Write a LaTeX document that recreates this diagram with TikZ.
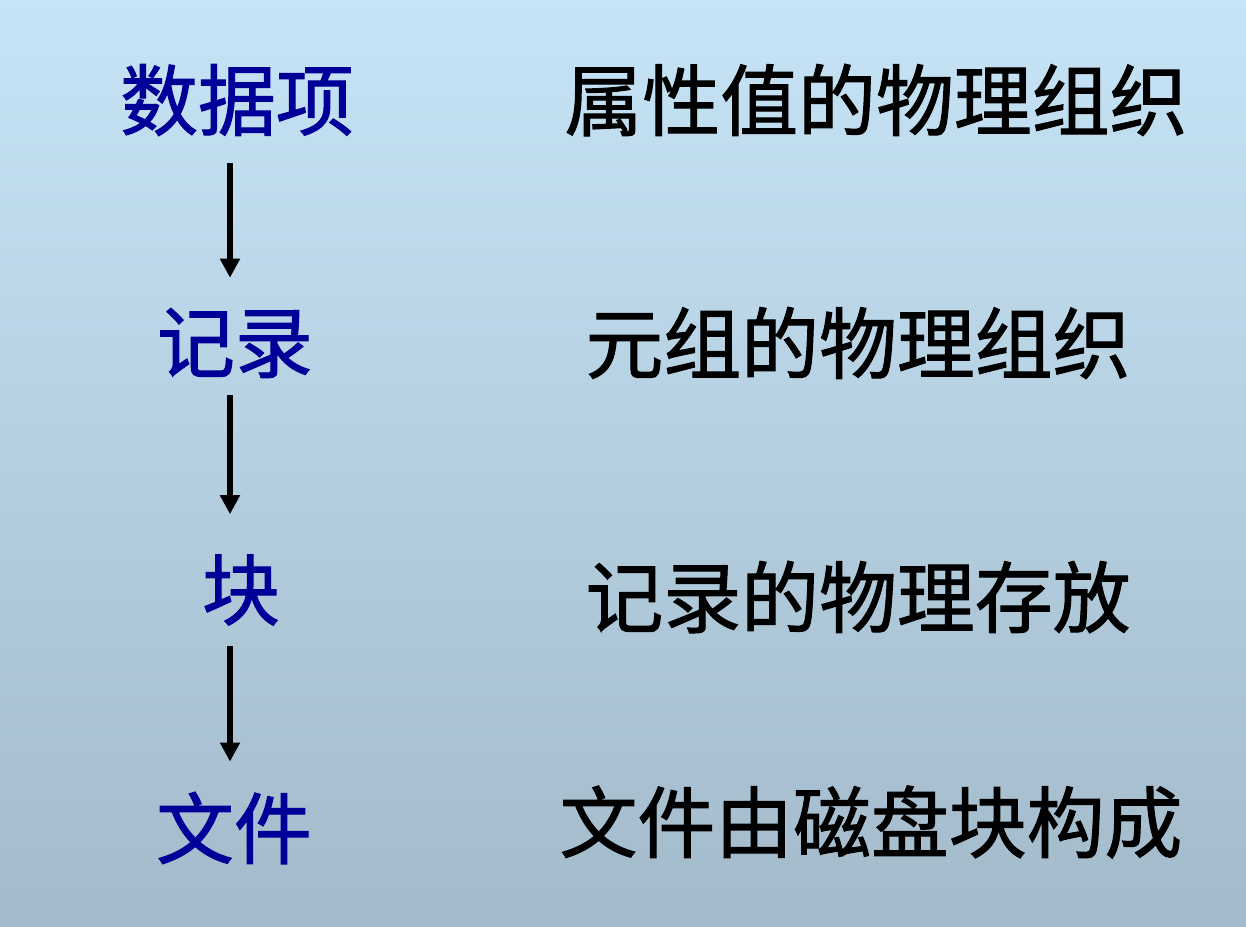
\documentclass[tikz,border=0pt]{standalone}
\usepackage{fontspec}
\newfontfamily\cjk{Noto Sans CJK SC}[FakeBold=1.3]
\usetikzlibrary{arrows.meta}
\definecolor{bgtop}{RGB}{198,228,246}
\definecolor{bgbot}{RGB}{163,186,202}
\definecolor{lvblue}{RGB}{0,0,153}
\tikzset{
  lvl/.style={inner sep=0pt, font=\cjk\fontsize{44.3}{52}\selectfont, text=lvblue},
  desc/.style={inner sep=0pt, font=\cjk\fontsize{44.3}{52}\selectfont, text=black},
  downarr/.style={-{Triangle[length=0.38cm, width=0.38cm]}, line width=0.11cm,
                  shorten <=0.54cm, shorten >=0.6cm},
}
\begin{document}
\begin{tikzpicture}
  \useasboundingbox (0,0) rectangle (24.92,-18.52);
  \shade[top color=bgtop, bottom color=bgbot] (0,0) rectangle (24.92,-18.52);
  % left column: storage levels
  \node[lvl] (item) at (4.74,-2.0) {数据项};
  \node[lvl] (rec) at (4.70,-6.86) {记录};
  \node[lvl] (blk) at (4.82,-11.8) {块};
  \node[lvl] (file) at (4.68,-16.56) {文件};
  \coordinate (axis) at (4.6,0);
  \draw[downarr] (item.south -| axis) -- (rec.north -| axis);
  \draw[downarr, shorten <=0.34cm, shorten >=0.8cm] (rec.south -| axis) -- (blk.north -| axis);
  \draw[downarr, shorten <=0.4cm] (blk.south -| axis) -- (file.north -| axis);
  % right column
  \node[desc] (itemd) at (17.52,-2.0) {属性值的物理组织};
  \node[desc] (recd) at (17.16,-6.86) {元组的物理组织};
  \node[desc] (blkd) at (17.16,-11.94) {记录的物理存放};
  \node[desc] (filed) at (17.42,-16.44) {文件由磁盘块构成};
\end{tikzpicture}
\end{document}
